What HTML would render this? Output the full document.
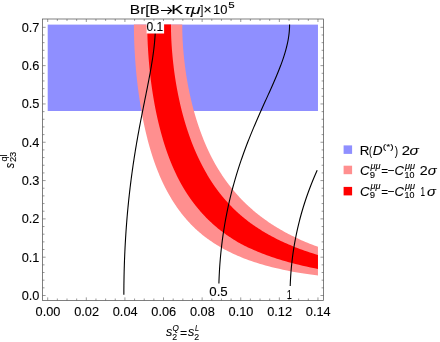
<!DOCTYPE html>
<html><head><meta charset="utf-8"><title>plot</title>
<style>html,body{margin:0;padding:0;background:#fff;width:440px;height:342px;overflow:hidden}</style></head>
<body>
<svg width="440" height="342" viewBox="0 0 440 342" style="position:absolute;left:0;top:0;will-change:transform;font-family:'Liberation Sans',sans-serif">
<rect x="0" y="0" width="440" height="342" fill="#fff"/>
<rect x="47.70" y="24.61" width="270.26" height="86.39" fill="#8f8fff"/>
<path d="M133.91,24.61 L133.91,25.49 L133.92,26.36 L133.92,27.24 L133.92,28.12 L133.93,29.00 L133.94,29.88 L133.95,30.75 L133.96,31.63 L133.97,32.51 L133.99,33.39 L134.01,34.27 L134.03,35.14 L134.05,36.02 L134.07,36.90 L134.09,37.78 L134.12,38.66 L134.14,39.53 L134.17,40.41 L134.20,41.29 L134.23,42.17 L134.27,43.05 L134.30,43.92 L134.34,44.80 L134.38,45.68 L134.42,46.56 L134.46,47.44 L134.50,48.31 L134.55,49.19 L134.59,50.07 L134.64,50.95 L134.69,51.83 L134.74,52.70 L134.79,53.58 L134.84,54.46 L134.90,55.34 L134.95,56.22 L135.01,57.09 L135.07,57.97 L135.12,58.85 L135.18,59.73 L135.25,60.61 L135.31,61.48 L135.38,62.36 L135.44,63.24 L135.51,64.12 L135.58,65.00 L135.65,65.87 L135.72,66.75 L135.80,67.63 L135.87,68.51 L135.95,69.39 L136.03,70.26 L136.11,71.14 L136.19,72.02 L136.27,72.90 L136.36,73.78 L136.44,74.65 L136.53,75.53 L136.62,76.41 L136.71,77.29 L136.80,78.17 L136.90,79.04 L136.99,79.92 L137.09,80.80 L137.19,81.68 L137.29,82.56 L137.39,83.43 L137.49,84.31 L137.60,85.19 L137.70,86.07 L137.81,86.95 L137.92,87.82 L138.03,88.70 L138.15,89.58 L138.26,90.46 L138.38,91.34 L138.49,92.21 L138.61,93.09 L138.73,93.97 L138.86,94.85 L138.98,95.73 L139.11,96.61 L139.23,97.48 L139.36,98.36 L139.49,99.24 L139.63,100.12 L139.76,101.00 L139.90,101.87 L140.03,102.75 L140.17,103.63 L140.31,104.51 L140.46,105.39 L140.60,106.26 L140.75,107.14 L140.90,108.02 L141.05,108.90 L141.20,109.78 L141.35,110.65 L141.51,111.53 L141.67,112.41 L141.83,113.29 L141.99,114.17 L142.15,115.04 L142.32,115.92 L142.49,116.80 L142.66,117.68 L142.83,118.56 L143.00,119.43 L143.18,120.31 L143.35,121.19 L143.53,122.07 L143.72,122.95 L143.90,123.82 L144.09,124.70 L144.27,125.58 L144.46,126.46 L144.66,127.34 L144.85,128.21 L145.05,129.09 L145.25,129.97 L145.45,130.85 L145.65,131.73 L145.86,132.60 L146.07,133.48 L146.28,134.36 L146.49,135.24 L146.71,136.12 L146.93,136.99 L147.15,137.87 L147.37,138.75 L147.60,139.63 L147.83,140.51 L148.06,141.38 L148.29,142.26 L148.53,143.14 L148.77,144.02 L149.01,144.90 L149.26,145.77 L149.51,146.65 L149.76,147.53 L150.01,148.41 L150.27,149.29 L150.53,150.16 L150.79,151.04 L151.06,151.92 L151.32,152.80 L151.60,153.68 L151.87,154.55 L152.15,155.43 L152.43,156.31 L152.72,157.19 L153.01,158.07 L153.30,158.94 L153.59,159.82 L153.89,160.70 L154.20,161.58 L154.50,162.46 L154.81,163.33 L155.13,164.21 L155.45,165.09 L155.77,165.97 L156.10,166.85 L156.43,167.72 L156.77,168.60 L157.11,169.48 L157.46,170.36 L157.81,171.24 L158.16,172.11 L158.52,172.99 L158.88,173.87 L159.25,174.75 L159.62,175.63 L160.00,176.50 L160.38,177.38 L160.77,178.26 L161.16,179.14 L161.56,180.02 L161.96,180.90 L162.37,181.77 L162.78,182.65 L163.20,183.53 L163.62,184.41 L164.05,185.29 L164.49,186.16 L164.93,187.04 L165.38,187.92 L165.83,188.80 L166.29,189.68 L166.75,190.55 L167.23,191.43 L167.71,192.31 L168.19,193.19 L168.69,194.07 L169.19,194.94 L169.69,195.82 L170.21,196.70 L170.73,197.59 L171.26,198.48 L171.80,199.38 L172.34,200.27 L172.90,201.16 L173.46,202.05 L174.03,202.94 L174.61,203.83 L175.20,204.72 L175.80,205.61 L176.41,206.51 L177.03,207.40 L177.65,208.29 L178.29,209.18 L178.94,210.08 L179.60,210.97 L180.27,211.86 L180.95,212.76 L181.64,213.65 L182.35,214.54 L183.07,215.44 L183.80,216.33 L184.54,217.23 L185.30,218.12 L186.07,219.02 L186.85,219.92 L187.65,220.81 L188.46,221.71 L189.29,222.61 L190.13,223.50 L190.99,224.40 L191.87,225.30 L192.76,226.20 L193.68,227.10 L194.61,228.00 L195.56,228.90 L196.53,229.79 L197.52,230.68 L198.53,231.57 L199.56,232.46 L200.61,233.35 L201.69,234.24 L202.79,235.13 L203.92,236.02 L205.07,236.91 L206.25,237.80 L207.46,238.69 L208.69,239.59 L209.96,240.48 L211.26,241.37 L212.59,242.26 L213.95,243.16 L215.35,244.05 L216.79,244.94 L218.26,245.84 L219.77,246.73 L221.33,247.63 L222.93,248.52 L224.57,249.42 L226.27,250.32 L228.01,251.21 L229.80,252.11 L231.66,253.01 L233.57,253.91 L235.54,254.81 L237.57,255.71 L239.67,256.61 L241.85,257.51 L244.10,258.42 L246.43,259.32 L248.85,260.23 L251.36,261.11 L253.96,261.98 L256.67,262.84 L259.48,263.70 L262.41,264.57 L265.47,265.43 L268.66,266.29 L272.00,267.15 L275.49,268.01 L279.14,268.87 L282.98,269.73 L287.01,270.59 L291.26,271.43 L295.74,272.23 L300.47,273.02 L305.49,273.81 L310.81,274.59 L316.46,275.37 L317.96,275.57 L317.96,246.84 L316.65,246.36 L314.28,245.47 L311.98,244.58 L309.73,243.69 L307.55,242.80 L305.42,241.91 L303.34,241.02 L301.31,240.13 L299.33,239.25 L297.40,238.36 L295.51,237.47 L293.67,236.58 L291.87,235.69 L290.11,234.81 L288.39,233.92 L286.70,233.03 L285.05,232.15 L283.44,231.26 L281.86,230.37 L280.31,229.49 L278.80,228.60 L277.32,227.71 L275.86,226.83 L274.43,225.94 L273.04,225.05 L271.67,224.17 L270.32,223.28 L269.00,222.40 L267.71,221.51 L266.44,220.62 L265.19,219.74 L263.96,218.85 L262.75,217.97 L261.57,217.08 L260.40,216.20 L259.26,215.31 L258.13,214.43 L257.02,213.54 L255.93,212.66 L254.86,211.77 L253.81,210.89 L252.78,210.01 L251.76,209.12 L250.76,208.24 L249.77,207.35 L248.80,206.47 L247.84,205.59 L246.90,204.70 L245.98,203.82 L245.07,202.94 L244.17,202.05 L243.28,201.17 L242.41,200.29 L241.55,199.40 L240.71,198.52 L239.88,197.64 L239.05,196.75 L238.24,195.87 L237.45,194.99 L236.66,194.11 L235.88,193.22 L235.12,192.34 L234.37,191.46 L233.62,190.58 L232.89,189.69 L232.17,188.81 L231.45,187.93 L230.75,187.05 L230.05,186.16 L229.37,185.29 L228.69,184.41 L228.02,183.53 L227.37,182.65 L226.72,181.77 L226.07,180.90 L225.44,180.02 L224.81,179.14 L224.20,178.26 L223.59,177.38 L222.99,176.50 L222.39,175.63 L221.80,174.75 L221.22,173.87 L220.65,172.99 L220.09,172.11 L219.53,171.24 L218.98,170.36 L218.43,169.48 L217.89,168.60 L217.36,167.72 L216.84,166.85 L216.32,165.97 L215.80,165.09 L215.31,164.21 L214.82,163.33 L214.33,162.46 L213.86,161.58 L213.38,160.70 L212.92,159.82 L212.46,158.94 L212.00,158.07 L211.55,157.19 L211.10,156.31 L210.66,155.43 L210.23,154.55 L209.80,153.68 L209.38,152.80 L208.96,151.92 L208.54,151.04 L208.13,150.16 L207.73,149.29 L207.33,148.41 L206.93,147.53 L206.54,146.65 L206.15,145.77 L205.77,144.90 L205.39,144.02 L205.02,143.14 L204.65,142.26 L204.28,141.38 L203.92,140.51 L203.56,139.63 L203.21,138.75 L202.86,137.87 L202.52,136.99 L202.18,136.12 L201.84,135.24 L201.51,134.36 L201.18,133.48 L200.85,132.60 L200.53,131.73 L200.21,130.85 L199.90,129.97 L199.59,129.09 L199.28,128.21 L198.98,127.34 L198.67,126.46 L198.38,125.58 L198.08,124.70 L197.79,123.82 L197.51,122.95 L197.22,122.07 L196.94,121.19 L196.67,120.31 L196.39,119.43 L196.12,118.56 L195.86,117.68 L195.59,116.80 L195.33,115.92 L195.07,115.04 L194.82,114.17 L194.57,113.29 L194.32,112.41 L194.07,111.53 L193.83,110.65 L193.59,109.78 L193.35,108.90 L193.12,108.02 L192.89,107.14 L192.66,106.26 L192.43,105.39 L192.21,104.51 L191.99,103.63 L191.77,102.75 L191.56,101.87 L191.34,101.00 L191.14,100.12 L190.93,99.24 L190.73,98.36 L190.52,97.48 L190.33,96.61 L190.13,95.73 L189.94,94.85 L189.75,93.97 L189.56,93.09 L189.37,92.21 L189.19,91.34 L189.01,90.46 L188.83,89.58 L188.66,88.70 L188.48,87.82 L188.31,86.95 L188.15,86.07 L187.98,85.19 L187.82,84.31 L187.66,83.43 L187.50,82.56 L187.34,81.68 L187.19,80.80 L187.04,79.92 L186.89,79.04 L186.75,78.17 L186.60,77.29 L186.46,76.41 L186.32,75.53 L186.19,74.65 L186.05,73.78 L185.92,72.90 L185.79,72.02 L185.66,71.14 L185.54,70.26 L185.42,69.39 L185.30,68.51 L185.18,67.63 L185.07,66.75 L184.95,65.87 L184.84,65.00 L184.73,64.12 L184.63,63.24 L184.53,62.36 L184.42,61.48 L184.33,60.61 L184.23,59.73 L184.14,58.85 L184.04,57.97 L183.95,57.09 L183.87,56.22 L183.78,55.34 L183.70,54.46 L183.62,53.58 L183.54,52.70 L183.46,51.83 L183.38,50.95 L183.31,50.07 L183.24,49.19 L183.17,48.31 L183.10,47.44 L183.04,46.56 L182.98,45.68 L182.92,44.80 L182.86,43.92 L182.81,43.05 L182.76,42.17 L182.71,41.29 L182.66,40.41 L182.62,39.53 L182.58,38.66 L182.54,37.78 L182.50,36.90 L182.47,36.02 L182.44,35.14 L182.41,34.27 L182.38,33.39 L182.36,32.51 L182.34,31.63 L182.32,30.75 L182.30,29.88 L182.29,29.00 L182.28,28.12 L182.28,27.24 L182.27,26.36 L182.27,25.49 L182.27,24.61Z" fill="#ff8f8f"/>
<path d="M147.28,24.61 L147.28,25.49 L147.28,26.36 L147.29,27.24 L147.29,28.12 L147.30,29.00 L147.31,29.88 L147.32,30.75 L147.34,31.63 L147.35,32.51 L147.37,33.39 L147.39,34.27 L147.41,35.14 L147.44,36.02 L147.46,36.90 L147.49,37.78 L147.52,38.66 L147.55,39.53 L147.58,40.41 L147.62,41.29 L147.66,42.17 L147.69,43.05 L147.73,43.92 L147.78,44.80 L147.82,45.68 L147.87,46.56 L147.92,47.44 L147.96,48.31 L148.02,49.19 L148.07,50.07 L148.12,50.95 L148.18,51.83 L148.24,52.70 L148.30,53.58 L148.36,54.46 L148.42,55.34 L148.48,56.22 L148.55,57.09 L148.61,57.97 L148.68,58.85 L148.75,59.73 L148.82,60.61 L148.89,61.48 L148.96,62.36 L149.04,63.24 L149.12,64.12 L149.20,65.00 L149.28,65.87 L149.36,66.75 L149.45,67.63 L149.53,68.51 L149.62,69.39 L149.71,70.26 L149.80,71.14 L149.89,72.02 L149.99,72.90 L150.09,73.78 L150.18,74.65 L150.28,75.53 L150.39,76.41 L150.49,77.29 L150.60,78.17 L150.70,79.04 L150.81,79.92 L150.92,80.80 L151.03,81.68 L151.15,82.56 L151.26,83.43 L151.38,84.31 L151.50,85.19 L151.62,86.07 L151.75,86.95 L151.87,87.82 L152.00,88.70 L152.13,89.58 L152.26,90.46 L152.39,91.34 L152.53,92.21 L152.66,93.09 L152.80,93.97 L152.94,94.85 L153.08,95.73 L153.23,96.61 L153.37,97.48 L153.52,98.36 L153.67,99.24 L153.82,100.12 L153.98,101.00 L154.13,101.87 L154.29,102.75 L154.45,103.63 L154.61,104.51 L154.78,105.39 L154.94,106.26 L155.11,107.14 L155.28,108.02 L155.45,108.90 L155.63,109.78 L155.81,110.65 L155.98,111.53 L156.17,112.41 L156.35,113.29 L156.53,114.17 L156.72,115.04 L156.91,115.92 L157.10,116.80 L157.30,117.68 L157.49,118.56 L157.69,119.43 L157.90,120.31 L158.10,121.19 L158.31,122.07 L158.51,122.95 L158.73,123.82 L158.94,124.70 L159.16,125.58 L159.37,126.46 L159.60,127.34 L159.82,128.21 L160.05,129.09 L160.27,129.97 L160.51,130.85 L160.74,131.73 L160.98,132.60 L161.22,133.48 L161.46,134.36 L161.71,135.24 L161.95,136.12 L162.20,136.99 L162.46,137.87 L162.72,138.75 L162.98,139.63 L163.24,140.51 L163.50,141.38 L163.77,142.26 L164.05,143.14 L164.32,144.02 L164.60,144.90 L164.88,145.77 L165.17,146.65 L165.46,147.53 L165.75,148.41 L166.04,149.29 L166.34,150.16 L166.64,151.04 L166.95,151.92 L167.26,152.80 L167.57,153.68 L167.89,154.55 L168.21,155.43 L168.53,156.31 L168.86,157.19 L169.19,158.07 L169.53,158.94 L169.87,159.82 L170.21,160.70 L170.56,161.58 L170.91,162.46 L171.27,163.33 L171.63,164.21 L172.00,165.09 L172.37,165.97 L172.75,166.85 L173.13,167.72 L173.52,168.60 L173.92,169.48 L174.32,170.36 L174.72,171.24 L175.13,172.11 L175.54,172.99 L175.96,173.87 L176.39,174.75 L176.82,175.63 L177.25,176.50 L177.69,177.38 L178.14,178.26 L178.59,179.14 L179.05,180.02 L179.51,180.90 L179.98,181.77 L180.46,182.65 L180.94,183.53 L181.43,184.41 L181.92,185.29 L182.43,186.16 L182.94,187.04 L183.45,187.92 L183.97,188.80 L184.51,189.68 L185.04,190.55 L185.59,191.43 L186.14,192.31 L186.70,193.19 L187.27,194.07 L187.85,194.94 L188.43,195.82 L189.03,196.70 L189.63,197.58 L190.24,198.46 L190.86,199.33 L191.49,200.21 L192.13,201.09 L192.78,201.97 L193.44,202.85 L194.11,203.72 L194.79,204.60 L195.48,205.48 L196.18,206.36 L196.89,207.24 L197.62,208.11 L198.35,208.99 L199.10,209.87 L199.86,210.75 L200.63,211.64 L201.42,212.53 L202.22,213.42 L203.03,214.31 L203.86,215.21 L204.70,216.10 L205.56,216.99 L206.43,217.88 L207.32,218.78 L208.22,219.67 L209.14,220.57 L210.08,221.46 L211.04,222.36 L212.01,223.25 L213.01,224.15 L214.02,225.04 L215.05,225.94 L216.10,226.83 L217.17,227.73 L218.27,228.63 L219.39,229.53 L220.53,230.42 L221.70,231.32 L222.89,232.22 L224.10,233.12 L225.35,234.02 L226.62,234.92 L227.92,235.82 L229.25,236.72 L230.61,237.62 L232.00,238.53 L233.43,239.43 L234.89,240.33 L236.38,241.24 L237.92,242.14 L239.49,243.05 L241.10,243.93 L242.76,244.79 L244.46,245.66 L246.21,246.53 L248.00,247.39 L249.85,248.26 L251.74,249.12 L253.70,249.99 L255.71,250.85 L257.78,251.72 L259.91,252.58 L262.12,253.45 L264.39,254.31 L266.74,255.17 L269.16,256.03 L271.67,256.90 L274.27,257.78 L276.96,258.66 L279.75,259.54 L282.64,260.42 L285.64,261.29 L288.77,262.17 L292.01,263.05 L295.40,263.93 L298.92,264.81 L302.60,265.69 L306.45,266.56 L310.48,267.44 L314.70,268.32 L317.96,268.97 L317.96,255.04 L317.96,255.04 L315.40,254.26 L312.59,253.36 L309.87,252.47 L307.23,251.58 L304.67,250.69 L302.19,249.80 L299.78,248.91 L297.43,248.02 L295.15,247.13 L292.94,246.24 L290.78,245.35 L288.68,244.46 L286.63,243.57 L284.64,242.68 L282.69,241.79 L280.80,240.90 L278.95,240.02 L277.15,239.13 L275.38,238.24 L273.66,237.35 L271.98,236.46 L270.34,235.57 L268.74,234.69 L267.17,233.80 L265.63,232.91 L264.13,232.03 L262.66,231.14 L261.22,230.25 L259.81,229.37 L258.42,228.48 L257.07,227.59 L255.74,226.71 L254.44,225.82 L253.17,224.94 L251.92,224.05 L250.69,223.16 L249.49,222.28 L248.31,221.39 L247.15,220.51 L246.01,219.62 L244.90,218.74 L243.81,217.85 L242.75,216.97 L241.70,216.09 L240.67,215.20 L239.66,214.32 L238.67,213.43 L237.69,212.55 L236.73,211.67 L235.79,210.78 L234.86,209.90 L233.95,209.02 L233.05,208.13 L232.17,207.25 L231.30,206.37 L230.44,205.48 L229.60,204.60 L228.77,203.72 L227.96,202.85 L227.15,201.97 L226.36,201.09 L225.58,200.21 L224.82,199.33 L224.06,198.46 L223.32,197.58 L222.59,196.70 L221.86,195.82 L221.15,194.94 L220.45,194.07 L219.76,193.19 L219.08,192.31 L218.41,191.43 L217.74,190.55 L217.09,189.68 L216.45,188.80 L215.81,187.92 L215.19,187.04 L214.57,186.16 L213.96,185.29 L213.36,184.41 L212.77,183.53 L212.18,182.65 L211.61,181.77 L211.04,180.90 L210.47,180.02 L209.92,179.14 L209.37,178.26 L208.83,177.38 L208.30,176.50 L207.77,175.63 L207.25,174.75 L206.74,173.87 L206.24,172.99 L205.74,172.11 L205.24,171.24 L204.76,170.36 L204.27,169.48 L203.80,168.60 L203.33,167.72 L202.87,166.85 L202.41,165.97 L201.96,165.09 L201.50,164.21 L201.05,163.33 L200.61,162.46 L200.17,161.58 L199.74,160.70 L199.31,159.82 L198.88,158.94 L198.47,158.07 L198.05,157.19 L197.64,156.31 L197.24,155.43 L196.84,154.55 L196.45,153.68 L196.06,152.80 L195.67,151.92 L195.29,151.04 L194.91,150.16 L194.54,149.29 L194.17,148.41 L193.81,147.53 L193.45,146.65 L193.10,145.77 L192.75,144.90 L192.40,144.02 L192.05,143.14 L191.71,142.26 L191.38,141.38 L191.05,140.51 L190.72,139.63 L190.40,138.75 L190.07,137.87 L189.76,136.99 L189.44,136.12 L189.13,135.24 L188.83,134.36 L188.52,133.48 L188.23,132.60 L187.93,131.73 L187.64,130.85 L187.35,129.97 L187.06,129.09 L186.78,128.21 L186.50,127.34 L186.22,126.46 L185.95,125.58 L185.68,124.70 L185.41,123.82 L185.15,122.95 L184.89,122.07 L184.63,121.19 L184.37,120.31 L184.12,119.43 L183.87,118.56 L183.63,117.68 L183.38,116.80 L183.14,115.92 L182.90,115.04 L182.67,114.17 L182.44,113.29 L182.21,112.41 L181.98,111.53 L181.76,110.65 L181.53,109.78 L181.32,108.90 L181.10,108.02 L180.89,107.14 L180.68,106.26 L180.47,105.39 L180.26,104.51 L180.06,103.63 L179.86,102.75 L179.66,101.87 L179.46,101.00 L179.27,100.12 L179.08,99.24 L178.89,98.36 L178.70,97.48 L178.52,96.61 L178.34,95.73 L178.16,94.85 L177.98,93.97 L177.81,93.09 L177.64,92.21 L177.47,91.34 L177.30,90.46 L177.14,89.58 L176.98,88.70 L176.81,87.82 L176.66,86.95 L176.50,86.07 L176.35,85.19 L176.20,84.31 L176.05,83.43 L175.90,82.56 L175.76,81.68 L175.61,80.80 L175.47,79.92 L175.34,79.04 L175.20,78.17 L175.07,77.29 L174.94,76.41 L174.81,75.53 L174.68,74.65 L174.56,73.78 L174.43,72.90 L174.31,72.02 L174.19,71.14 L174.08,70.26 L173.96,69.39 L173.85,68.51 L173.74,67.63 L173.64,66.75 L173.53,65.87 L173.43,65.00 L173.33,64.12 L173.23,63.24 L173.13,62.36 L173.04,61.48 L172.94,60.61 L172.85,59.73 L172.76,58.85 L172.68,57.97 L172.59,57.09 L172.51,56.22 L172.43,55.34 L172.36,54.46 L172.28,53.58 L172.20,52.70 L172.13,51.83 L172.06,50.95 L171.99,50.07 L171.92,49.19 L171.85,48.31 L171.79,47.44 L171.73,46.56 L171.67,45.68 L171.61,44.80 L171.56,43.92 L171.51,43.05 L171.46,42.17 L171.41,41.29 L171.36,40.41 L171.32,39.53 L171.28,38.66 L171.24,37.78 L171.21,36.90 L171.17,36.02 L171.14,35.14 L171.11,34.27 L171.09,33.39 L171.06,32.51 L171.04,31.63 L171.02,30.75 L171.01,29.88 L170.99,29.00 L170.98,28.12 L170.97,27.24 L170.96,26.36 L170.96,25.49 L170.96,24.61Z" fill="#ff0000"/>
<path d="M123.85,294.73 L123.86,292.92 L123.86,291.11 L123.87,289.30 L123.89,287.48 L123.90,285.67 L123.92,283.86 L123.95,282.04 L123.98,280.23 L124.01,278.42 L124.04,276.60 L124.08,274.79 L124.12,272.98 L124.16,271.17 L124.21,269.35 L124.26,267.54 L124.32,265.73 L124.37,263.91 L124.44,262.10 L124.50,260.29 L124.57,258.48 L124.64,256.66 L124.72,254.85 L124.80,253.04 L124.88,251.22 L124.96,249.41 L125.05,247.60 L125.15,245.78 L125.24,243.97 L125.34,242.16 L125.45,240.35 L125.56,238.53 L125.67,236.72 L125.78,234.91 L125.90,233.09 L126.02,231.28 L126.15,229.47 L126.28,227.66 L126.41,225.84 L126.55,224.03 L126.69,222.22 L126.83,220.40 L126.98,218.59 L127.13,216.78 L127.29,214.96 L127.45,213.15 L127.61,211.34 L127.78,209.53 L127.95,207.71 L128.13,205.90 L128.31,204.09 L128.49,202.27 L128.67,200.46 L128.86,198.65 L129.06,196.84 L129.26,195.02 L129.46,193.21 L129.67,191.40 L129.88,189.58 L130.09,187.77 L130.31,185.96 L130.53,184.15 L130.76,182.33 L130.99,180.52 L131.22,178.71 L131.46,176.89 L131.70,175.08 L131.95,173.27 L132.20,171.45 L132.45,169.64 L132.71,167.83 L132.97,166.02 L133.24,164.20 L133.51,162.39 L133.78,160.58 L134.06,158.76 L134.34,156.95 L134.62,155.14 L134.91,153.33 L135.21,151.51 L135.50,149.70 L135.80,147.89 L136.11,146.07 L136.41,144.26 L136.73,142.45 L137.04,140.63 L137.36,138.82 L137.68,137.01 L138.01,135.20 L138.33,133.38 L138.67,131.57 L139.00,129.76 L139.34,127.94 L139.68,126.13 L140.02,124.32 L140.37,122.51 L140.72,120.69 L141.07,118.88 L141.42,117.07 L141.78,115.25 L142.13,113.44 L142.49,111.63 L142.85,109.82 L143.22,108.00 L143.58,106.19 L143.94,104.38 L144.31,102.56 L144.67,100.75 L145.04,98.94 L145.40,97.12 L145.77,95.31 L146.13,93.50 L146.50,91.69 L146.86,89.87 L147.22,88.06 L147.58,86.25 L147.94,84.43 L148.29,82.62 L148.64,80.81 L148.99,79.00 L149.34,77.18 L149.68,75.37 L150.01,73.56 L150.34,71.74 L150.67,69.93 L150.99,68.12 L151.30,66.30 L151.60,64.49 L151.90,62.68 L152.19,60.87 L152.47,59.05 L152.74,57.24 L153.00,55.43 L153.25,53.61 L153.49,51.80 L153.72,49.99 L153.94,48.18 L154.14,46.36 L154.33,44.55 L154.51,42.74 L154.67,40.92 L154.82,39.11 L154.95,37.30 L155.07,35.48 L155.17,33.67 L155.25,31.86 L155.31,30.05 L155.36,28.23 L155.39,26.42 L155.40,24.61" fill="none" stroke="#000" stroke-width="1.10"/>
<path d="M218.90,283.60 L218.95,281.86 L219.01,280.12 L219.08,278.39 L219.15,276.65 L219.23,274.91 L219.32,273.17 L219.41,271.43 L219.51,269.69 L219.62,267.96 L219.74,266.22 L219.86,264.48 L219.99,262.74 L220.13,261.00 L220.27,259.27 L220.42,257.53 L220.58,255.79 L220.75,254.05 L220.92,252.31 L221.10,250.57 L221.29,248.84 L221.49,247.10 L221.69,245.36 L221.90,243.62 L222.12,241.88 L222.34,240.14 L222.57,238.41 L222.81,236.67 L223.06,234.93 L223.32,233.19 L223.58,231.45 L223.85,229.72 L224.13,227.98 L224.41,226.24 L224.70,224.50 L225.01,222.76 L225.31,221.02 L225.63,219.29 L225.95,217.55 L226.29,215.81 L226.63,214.07 L226.97,212.33 L227.33,210.60 L227.69,208.86 L228.06,207.12 L228.44,205.38 L228.83,203.64 L229.22,201.90 L229.63,200.17 L230.04,198.43 L230.46,196.69 L230.89,194.95 L231.32,193.21 L231.77,191.48 L232.22,189.74 L232.68,188.00 L233.15,186.26 L233.62,184.52 L234.11,182.78 L234.60,181.05 L235.10,179.31 L235.61,177.57 L236.13,175.83 L236.65,174.09 L237.19,172.35 L237.73,170.62 L238.28,168.88 L238.84,167.14 L239.41,165.40 L239.98,163.66 L240.57,161.93 L241.16,160.19 L241.76,158.45 L242.36,156.71 L242.98,154.97 L243.60,153.23 L244.23,151.50 L244.87,149.76 L245.52,148.02 L246.17,146.28 L246.83,144.54 L247.50,142.81 L248.18,141.07 L248.86,139.33 L249.55,137.59 L250.25,135.85 L250.96,134.11 L251.67,132.38 L252.39,130.64 L253.11,128.90 L253.84,127.16 L254.58,125.42 L255.32,123.69 L256.06,121.95 L256.82,120.21 L257.57,118.47 L258.33,116.73 L259.10,114.99 L259.87,113.26 L260.64,111.52 L261.42,109.78 L262.20,108.04 L262.98,106.30 L263.76,104.56 L264.55,102.83 L265.34,101.09 L266.12,99.35 L266.91,97.61 L267.70,95.87 L268.48,94.14 L269.27,92.40 L270.05,90.66 L270.83,88.92 L271.61,87.18 L272.38,85.44 L273.14,83.71 L273.90,81.97 L274.66,80.23 L275.41,78.49 L276.14,76.75 L276.87,75.02 L277.60,73.28 L278.30,71.54 L279.00,69.80 L279.69,68.06 L280.36,66.32 L281.02,64.59 L281.66,62.85 L282.28,61.11 L282.89,59.37 L283.48,57.63 L284.04,55.90 L284.59,54.16 L285.12,52.42 L285.62,50.68 L286.09,48.94 L286.54,47.20 L286.97,45.47 L287.37,43.73 L287.73,41.99 L288.07,40.25 L288.38,38.51 L288.65,36.77 L288.89,35.04 L289.10,33.30 L289.27,31.56 L289.40,29.82 L289.50,28.08 L289.56,26.35 L289.58,24.61" fill="none" stroke="#000" stroke-width="1.10"/>
<path d="M290.21,285.90 L290.27,284.15 L290.35,282.39 L290.43,280.64 L290.52,278.89 L290.62,277.13 L290.73,275.38 L290.85,273.62 L290.99,271.87 L291.13,270.12 L291.28,268.36 L291.44,266.61 L291.62,264.86 L291.80,263.10 L292.00,261.35 L292.20,259.60 L292.41,257.84 L292.64,256.09 L292.88,254.33 L293.12,252.58 L293.38,250.83 L293.65,249.07 L293.92,247.32 L294.21,245.57 L294.51,243.81 L294.82,242.06 L295.14,240.31 L295.48,238.55 L295.82,236.80 L296.17,235.04 L296.53,233.29 L296.91,231.54 L297.29,229.78 L297.69,228.03 L298.10,226.28 L298.52,224.52 L298.95,222.77 L299.39,221.02 L299.84,219.26 L300.30,217.51 L300.78,215.75 L301.27,214.00 L301.76,212.25 L302.27,210.49 L302.79,208.74 L303.32,206.99 L303.87,205.23 L304.42,203.48 L304.99,201.73 L305.56,199.97 L306.15,198.22 L306.75,196.46 L307.37,194.71 L307.99,192.96 L308.63,191.20 L309.28,189.45 L309.94,187.70 L310.61,185.94 L311.29,184.19 L311.99,182.44 L312.69,180.68 L313.41,178.93 L314.14,177.17 L314.89,175.42 L315.64,173.67 L316.41,171.91 L317.19,170.16" fill="none" stroke="#000" stroke-width="1.10"/>
<rect x="42.60" y="19.00" width="280.90" height="281.40" fill="none" stroke="#555" stroke-width="0.75"/>
<path d="M47.70,300.40v-3.00M47.70,19.00v3.00M57.35,300.40v-1.90M57.35,19.00v1.90M67.00,300.40v-1.90M67.00,19.00v1.90M76.66,300.40v-1.90M76.66,19.00v1.90M86.31,300.40v-3.00M86.31,19.00v3.00M95.96,300.40v-1.90M95.96,19.00v1.90M105.61,300.40v-1.90M105.61,19.00v1.90M115.26,300.40v-1.90M115.26,19.00v1.90M124.92,300.40v-3.00M124.92,19.00v3.00M134.57,300.40v-1.90M134.57,19.00v1.90M144.22,300.40v-1.90M144.22,19.00v1.90M153.87,300.40v-1.90M153.87,19.00v1.90M163.52,300.40v-3.00M163.52,19.00v3.00M173.18,300.40v-1.90M173.18,19.00v1.90M182.83,300.40v-1.90M182.83,19.00v1.90M192.48,300.40v-1.90M192.48,19.00v1.90M202.13,300.40v-3.00M202.13,19.00v3.00M211.78,300.40v-1.90M211.78,19.00v1.90M221.44,300.40v-1.90M221.44,19.00v1.90M231.09,300.40v-1.90M231.09,19.00v1.90M240.74,300.40v-3.00M240.74,19.00v3.00M250.39,300.40v-1.90M250.39,19.00v1.90M260.04,300.40v-1.90M260.04,19.00v1.90M269.70,300.40v-1.90M269.70,19.00v1.90M279.35,300.40v-3.00M279.35,19.00v3.00M289.00,300.40v-1.90M289.00,19.00v1.90M298.65,300.40v-1.90M298.65,19.00v1.90M308.30,300.40v-1.90M308.30,19.00v1.90M317.96,300.40v-3.00M317.96,19.00v3.00M42.60,295.50h3.00M323.50,295.50h-3.00M42.60,287.84h1.90M323.50,287.84h-1.90M42.60,280.18h1.90M323.50,280.18h-1.90M42.60,272.51h1.90M323.50,272.51h-1.90M42.60,264.85h1.90M323.50,264.85h-1.90M42.60,257.19h3.00M323.50,257.19h-3.00M42.60,249.53h1.90M323.50,249.53h-1.90M42.60,241.87h1.90M323.50,241.87h-1.90M42.60,234.20h1.90M323.50,234.20h-1.90M42.60,226.54h1.90M323.50,226.54h-1.90M42.60,218.88h3.00M323.50,218.88h-3.00M42.60,211.22h1.90M323.50,211.22h-1.90M42.60,203.56h1.90M323.50,203.56h-1.90M42.60,195.89h1.90M323.50,195.89h-1.90M42.60,188.23h1.90M323.50,188.23h-1.90M42.60,180.57h3.00M323.50,180.57h-3.00M42.60,172.91h1.90M323.50,172.91h-1.90M42.60,165.25h1.90M323.50,165.25h-1.90M42.60,157.58h1.90M323.50,157.58h-1.90M42.60,149.92h1.90M323.50,149.92h-1.90M42.60,142.26h3.00M323.50,142.26h-3.00M42.60,134.60h1.90M323.50,134.60h-1.90M42.60,126.94h1.90M323.50,126.94h-1.90M42.60,119.27h1.90M323.50,119.27h-1.90M42.60,111.61h1.90M323.50,111.61h-1.90M42.60,103.95h3.00M323.50,103.95h-3.00M42.60,96.29h1.90M323.50,96.29h-1.90M42.60,88.63h1.90M323.50,88.63h-1.90M42.60,80.96h1.90M323.50,80.96h-1.90M42.60,73.30h1.90M323.50,73.30h-1.90M42.60,65.64h3.00M323.50,65.64h-3.00M42.60,57.98h1.90M323.50,57.98h-1.90M42.60,50.32h1.90M323.50,50.32h-1.90M42.60,42.65h1.90M323.50,42.65h-1.90M42.60,34.99h1.90M323.50,34.99h-1.90M42.60,27.33h3.00M323.50,27.33h-3.00" fill="none" stroke="#555" stroke-width="0.60"/>
<g stroke="#000" stroke-width="0.10" stroke-linejoin="round">
<text transform="translate(47.95,316.00) scale(1.0400,1)" font-size="12.30" text-anchor="middle">0.00</text>
<text transform="translate(86.56,316.00) scale(1.0400,1)" font-size="12.30" text-anchor="middle">0.02</text>
<text transform="translate(125.17,316.00) scale(1.0400,1)" font-size="12.30" text-anchor="middle">0.04</text>
<text transform="translate(163.77,316.00) scale(1.0400,1)" font-size="12.30" text-anchor="middle">0.06</text>
<text transform="translate(202.38,316.00) scale(1.0400,1)" font-size="12.30" text-anchor="middle">0.08</text>
<text transform="translate(240.99,316.00) scale(1.0400,1)" font-size="12.30" text-anchor="middle">0.10</text>
<text transform="translate(279.60,316.00) scale(1.0400,1)" font-size="12.30" text-anchor="middle">0.12</text>
<text transform="translate(318.21,316.00) scale(1.0400,1)" font-size="12.30" text-anchor="middle">0.14</text>
<text transform="translate(39.40,299.95) scale(1.0400,1)" font-size="12.30" text-anchor="end">0.0</text>
<text transform="translate(39.40,261.64) scale(1.0400,1)" font-size="12.30" text-anchor="end">0.1</text>
<text transform="translate(39.40,223.33) scale(1.0400,1)" font-size="12.30" text-anchor="end">0.2</text>
<text transform="translate(39.40,185.02) scale(1.0400,1)" font-size="12.30" text-anchor="end">0.3</text>
<text transform="translate(39.40,146.71) scale(1.0400,1)" font-size="12.30" text-anchor="end">0.4</text>
<text transform="translate(39.40,108.40) scale(1.0400,1)" font-size="12.30" text-anchor="end">0.5</text>
<text transform="translate(39.40,70.09) scale(1.0400,1)" font-size="12.30" text-anchor="end">0.6</text>
<text transform="translate(39.40,31.78) scale(1.0400,1)" font-size="12.30" text-anchor="end">0.7</text>
<rect x="146.6" y="21.0" width="17.5" height="12.5" fill="#fff" stroke="none"/>
<text transform="translate(146.43,31.00) scale(0.9802,1)" font-size="12.30">0.1</text>
<text transform="translate(209.28,296.00) scale(1.0806,1)" font-size="12.30">0.5</text>
<text transform="translate(286.79,298.80) scale(0.7543,1)" font-size="12.30">1</text>
<text transform="translate(129.83,14.30) scale(1.1291,1)" font-size="13.70">Br[B</text>
<path d="M161,10.45H171.3M167.6,6.9L171.7,10.45L167.6,14" fill="none" stroke="#000" stroke-width="1.1" stroke-linejoin="miter"/>
<text transform="translate(171.23,14.30) scale(1.3104,1)" font-size="13.70">K</text>
<text transform="translate(184.15,14.30) scale(1.3017,1)" font-size="13.70" font-style="italic">τμ</text>
<text transform="translate(200.21,14.30) scale(0.8080,1)" font-size="13.70">]</text>
<text transform="translate(203.54,14.30) scale(1.0152,1)" font-size="13.70">×</text>
<text transform="translate(213.11,14.30) scale(0.9444,1)" font-size="13.70">10</text>
<text transform="translate(228.34,7.90) scale(1.2609,1)" font-size="9.20">5</text>
<text transform="translate(165.97,336.30) scale(0.9675,1)" font-size="13.00" font-style="italic">s</text>
<text transform="translate(172.50,331.30) scale(0.9526,1)" font-size="8.60" font-style="italic">Q</text>
<text transform="translate(172.16,339.50) scale(0.9756,1)" font-size="9.00">2</text>
<text transform="translate(179.90,336.70) scale(0.9880,1)" font-size="12.50">=</text>
<text transform="translate(187.97,336.30) scale(0.9675,1)" font-size="13.00" font-style="italic">s</text>
<text transform="translate(195.08,331.30) scale(0.8423,1)" font-size="8.60" font-style="italic">L</text>
<text transform="translate(194.36,339.50) scale(0.9756,1)" font-size="9.00">2</text>
<g transform="translate(14.0,168.1) rotate(-90)">
<text transform="translate(-0.03,0.00) scale(0.8385,1)" font-size="13.00" font-style="italic">s</text>
<text transform="translate(6.03,2.00) scale(1.0368,1)" font-size="9.00">23</text>
<text transform="translate(6.51,-6.90) scale(1.0769,1)" font-size="8.60">ql</text>
</g>
<text transform="translate(359.71,154.70) scale(1.0477,1)" font-size="12.70">R</text>
<text transform="translate(368.94,154.70) scale(0.7128,1)" font-size="12.70">(</text>
<text transform="translate(372.78,154.70) scale(1.0751,1)" font-size="12.70" font-style="italic">D</text>
<text transform="translate(382.77,149.10) scale(1.5458,1)" font-size="6.60">(*)</text>
<text transform="translate(394.74,154.70) scale(0.7721,1)" font-size="12.70">)</text>
<text transform="translate(401.75,154.70) scale(1.1753,1)" font-size="12.70">2</text>
<text transform="translate(409.59,154.70) scale(1.2183,1)" font-size="12.70" font-style="italic">σ</text>
<text transform="translate(360.07,175.30) scale(1.0423,1)" font-size="12.70" font-style="italic">C</text>
<text transform="translate(370.49,168.60) scale(1.0796,1)" font-size="8.50" font-style="italic">μμ</text>
<text transform="translate(369.85,177.50) scale(1.1207,1)" font-size="8.50">9</text>
<text transform="translate(381.23,175.30) scale(0.9238,1)" font-size="12.70">=</text>
<text transform="translate(387.52,175.30) scale(0.9238,1)" font-size="12.70">−</text>
<text transform="translate(394.38,175.30) scale(1.0306,1)" font-size="12.70" font-style="italic">C</text>
<text transform="translate(405.09,168.60) scale(1.0796,1)" font-size="8.50" font-style="italic">μμ</text>
<text transform="translate(404.62,177.50) scale(1.0501,1)" font-size="8.50">10</text>
<text transform="translate(419.78,175.30) scale(1.1235,1)" font-size="12.70">2</text>
<text transform="translate(427.71,175.30) scale(1.1659,1)" font-size="12.70" font-style="italic">σ</text>
<text transform="translate(360.07,196.10) scale(1.0423,1)" font-size="12.70" font-style="italic">C</text>
<text transform="translate(370.49,189.40) scale(1.0796,1)" font-size="8.50" font-style="italic">μμ</text>
<text transform="translate(369.85,198.30) scale(1.1207,1)" font-size="8.50">9</text>
<text transform="translate(381.23,196.10) scale(0.9238,1)" font-size="12.70">=</text>
<text transform="translate(387.52,196.10) scale(0.9238,1)" font-size="12.70">−</text>
<text transform="translate(394.38,196.10) scale(1.0306,1)" font-size="12.70" font-style="italic">C</text>
<text transform="translate(405.09,189.40) scale(1.0796,1)" font-size="8.50" font-style="italic">μμ</text>
<text transform="translate(404.62,198.30) scale(1.0501,1)" font-size="8.50">10</text>
<text transform="translate(420.38,196.10) scale(0.6392,1)" font-size="12.70">1</text>
<text transform="translate(426.91,196.10) scale(1.1659,1)" font-size="12.70" font-style="italic">σ</text>
</g>
<rect x="343.6" y="145.4" width="8.5" height="8.5" fill="#8f8fff"/>
<rect x="343.6" y="165.7" width="8.5" height="8.5" fill="#ff8f8f"/>
<rect x="343.6" y="186.9" width="8.5" height="8.5" fill="#ff0000"/>
</svg>
</body></html>
